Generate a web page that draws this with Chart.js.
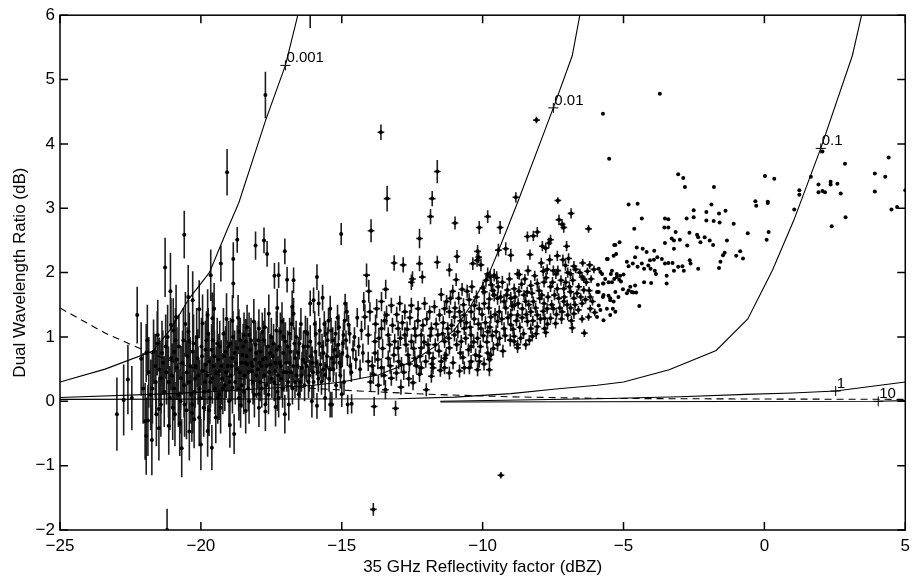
<!DOCTYPE html>
<html>
<head>
<meta charset="utf-8">
<script src="https://cdn.jsdelivr.net/npm/chart.js@4.4.0/dist/chart.umd.min.js"></script>
<style>
  html, body { margin: 0; padding: 0; background: #fff; }
  #wrap { width: 916px; height: 582px; }
</style>
</head>
<body>
<div id="wrap"><canvas id="dwrChart"></canvas></div>
<script>
// axis ticks
const xTicks = [-25, -20, -15, -10, -5, 0, 5];
const yTicks = [-2, -1, 0, 1, 2, 3, 4, 5, 6];

// model curves (labelled) and the dashed reference curve
const curve001 = [[-25,0.30],[-23.4,0.50],[-21.7,0.78],[-21.06,1.13],[-20.41,1.60],[-19.7,2.00],[-19.1,2.63],[-18.65,3.09],[-17.7,4.37],[-17.0,5.22],[-16.56,6.0],[-16.2,6.8]];
const curve01 = [[-25,0.06],[-21,0.12],[-18,0.19],[-16,0.25],[-15,0.30],[-13.7,0.41],[-12.5,0.62],[-11.7,0.85],[-11.0,1.11],[-10.4,1.50],[-9.76,2.00],[-9.41,2.37],[-8.76,3.09],[-7.49,4.56],[-6.82,5.37],[-6.55,6.0],[-6.3,6.8]];
const curve1 = [[-25,0.03],[-13,0.04],[-11,0.065],[-9,0.12],[-7.4,0.19],[-5.94,0.25],[-5.0,0.30],[-3.38,0.49],[-1.71,0.79],[-0.59,1.28],[0.29,2.04],[1.05,2.82],[2.0,3.93],[3.12,5.37],[3.45,6.0],[3.7,6.8]];
const curve10 = [[-11.5,0.0],[-5.94,0.04],[-3,0.07],[-0.65,0.107],[1,0.13],[2.53,0.16],[5,0.30]];
const curve100 = [[-11.5,-0.01],[4.04,0.0],[5,0.01]];
const dashedCurve = [[-25,1.45],[-23.4,1.06],[-22.47,0.88],[-21.24,0.65],[-19.5,0.42],[-17.5,0.27],[-16,0.20],[-14.4,0.16],[-11.94,0.11],[-9,0.07],[-5.94,0.045],[0,0.035],[5,0.03]];

// "+" markers on the curves and their labels
const curveLabels = ['0.001', '0.01', '0.1', '1', '10'];
const markerX = [-17.0, -7.49, 2.0, 2.53, 4.04];
const markerY = [5.22, 4.56, 3.93, 0.16, 0.0];

// observations: [dBZ, DWR, DWR error]
const leftPts = [
  [-22.98,-0.20,0.57],[-22.74,0.02,0.55],[-22.59,0.34,0.54],[-22.45,0.05,0.5],[-22.26,1.34,0.44],[-22.12,0.66,0.57],
  [-22.05,0.20,0.55],[-21.98,-0.31,0.6],[-21.88,-0.30,0.55],[-21.94,-0.54,0.6],[-21.94,0.75,0.45],[-21.85,0.45,0.55],
  [-21.78,0.10,0.55],[-21.74,-0.60,0.55],[-21.68,0.77,0.5],[-21.6,0.30,0.5],[-21.58,-0.20,0.5],[-21.53,1.03,0.55],
  [-21.49,-0.12,0.5],[-21.49,-0.42,0.5],[-21.47,0.49,0.5],[-21.41,0.36,0.55],[-21.35,0.60,0.5],[-21.3,0.15,0.55],
  [-21.27,2.08,0.46],[-21.25,0.85,0.5],[-21.20,-2.00,0.33],[-21.15,0.30,0.55],[-21.14,-0.38,0.45],[-21.08,1.71,0.6],
  [-21.06,1.19,0.41],[-21.06,0.67,0.5],[-21.0,-0.10,0.5],[-20.95,0.20,0.5],[-20.94,0.77,0.5],[-20.9,0.95,0.5],
  [-20.88,1.31,0.5],[-20.86,0.52,0.5],[-20.8,0.10,0.5],[-20.75,-0.35,0.5],[-20.71,0.36,0.5],[-20.68,-0.73,0.45],
  [-20.65,0.60,0.5],[-20.6,0.25,0.5],[-20.59,2.59,0.37],[-20.55,1.20,0.5],[-20.51,-0.14,0.45],[-20.5,0.45,0.5],
  [-20.45,1.62,0.5],[-20.44,1.08,0.5],[-20.41,0.93,0.45],[-20.41,-0.47,0.45],[-20.35,0.10,0.45],[-20.32,-0.18,0.45],
  [-20.3,-0.05,0.45],[-20.29,1.57,0.45],[-20.29,0.77,0.45],[-20.24,-0.28,0.45],[-20.2,0.35,0.45],[-20.15,1.00,0.45],
  [-20.12,0.67,0.45],[-20.06,1.43,0.45],[-20.06,-0.25,0.45],[-20.05,0.20,0.45],[-20.0,-0.67,0.4],[-19.98,0.85,0.45],
  [-19.94,1.21,0.45],[-19.94,0.47,0.45],[-19.9,-0.10,0.45],[-19.85,0.30,0.45],[-19.82,0.57,0.45],[-19.8,0.95,0.45],
  [-19.76,1.34,0.4],[-19.76,-0.46,0.4],[-19.71,0.62,0.45],[-19.71,0.16,0.45],[-19.71,-0.14,0.4],[-19.68,0.05,0.4],
  [-19.65,1.96,0.4],[-19.62,0.80,0.4],[-19.61,-0.72,0.35],[-19.59,1.29,0.4],[-19.59,0.36,0.4],[-19.55,0.55,0.4],
  [-19.53,1.44,0.4],[-19.5,0.20,0.4],[-19.47,-0.25,0.4],[-19.42,0.90,0.4],[-19.38,0.65,0.4],[-19.35,0.47,0.4],
  [-19.35,0.11,0.4],[-19.3,-0.10,0.4],[-19.29,2.14,0.28],[-19.25,0.35,0.4],[-19.2,1.05,0.4],[-19.15,0.25,0.4],
  [-19.12,0.77,0.4],[-19.09,1.28,0.4],[-19.07,3.56,0.36],[-19.05,0.55,0.4],[-19.0,0.00,0.4],[-18.97,-0.37,0.35],
  [-18.95,0.90,0.4],[-18.92,0.40,0.4],[-18.88,1.25,0.4],[-18.88,0.67,0.4],[-18.88,0.21,0.4],[-18.85,2.21,0.26],
  [-18.85,1.83,0.23],[-18.82,-0.51,0.31],[-18.78,0.30,0.35],[-18.75,0.60,0.35],[-18.71,2.51,0.2],[-18.71,0.83,0.35],
  [-18.68,1.30,0.35],[-18.65,1.08,0.35],[-18.65,0.05,0.35],[-18.62,0.45,0.35],[-18.59,-0.06,0.35],[-18.55,0.25,0.35],
  [-18.53,0.72,0.35],[-18.5,0.85,0.35],[-18.47,1.03,0.35],[-18.45,0.40,0.35],[-18.41,0.93,0.35],[-18.41,-0.15,0.35],
  [-18.38,0.70,0.35],[-18.35,0.57,0.35],[-18.32,0.20,0.35],[-18.29,1.03,0.35],[-18.29,0.00,0.35],[-18.25,0.80,0.35],
  [-18.2,0.60,0.35],[-18.18,0.47,0.35],[-18.15,0.30,0.35],[-18.12,1.24,0.35],[-18.08,0.65,0.35],[-18.06,2.42,0.22],
  [-18.06,0.88,0.35],[-18.02,0.40,0.35],[-17.98,0.50,0.3],[-17.94,1.13,0.3],[-17.94,0.11,0.3],[-17.94,-0.10,0.3],
  [-17.9,0.30,0.3],[-17.88,0.77,0.3],[-17.85,0.55,0.3],[-17.82,1.08,0.3],[-17.78,0.95,0.3],[-17.76,2.50,0.2],
  [-17.75,0.40,0.3],[-17.71,4.76,0.36],[-17.71,0.67,0.3],[-17.71,-0.05,0.3],[-17.71,-0.16,0.3],[-17.68,0.25,0.3],
  [-17.65,2.29,0.2],[-17.62,0.85,0.3],[-17.59,1.36,0.3],[-17.58,0.45,0.3],[-17.53,0.57,0.3],[-17.5,1.00,0.3],
  [-17.45,0.70,0.3],[-17.4,0.30,0.3],[-17.39,1.95,0.2],[-17.35,0.47,0.3],[-17.35,-0.09,0.3],[-17.3,0.80,0.3],
  [-17.29,1.45,0.3],[-17.28,0.15,0.3],[-17.24,1.96,0.2],[-17.24,0.05,0.3],[-17.2,0.60,0.3],[-17.18,1.08,0.3],
  [-17.15,0.35,0.3],[-17.12,1.24,0.3],[-17.08,0.75,0.3],[-17.05,0.45,0.3],[-17.02,2.33,0.2],[-17.02,-0.20,0.3],
  [-17.0,0.93,0.3],[-16.98,0.60,0.3],[-16.94,1.89,0.2],[-16.9,0.30,0.25],[-16.88,-0.05,0.25],[-16.85,1.05,0.25],
  [-16.82,0.77,0.25],[-16.8,0.45,0.25],[-16.76,1.47,0.25],[-16.75,0.20,0.25],[-16.71,1.36,0.25],[-16.71,1.88,0.2],
  [-16.68,0.90,0.25],[-16.65,0.67,0.25],[-16.6,0.40,0.25],[-16.55,0.75,0.25],[-16.53,0.11,0.25],[-16.48,0.30,0.25],
  [-16.45,1.20,0.25],[-16.41,0.52,0.25],[-16.38,0.65,0.25],[-16.32,0.25,0.25],[-16.29,1.08,0.25],[-16.25,0.55,0.25],
  [-16.2,0.85,0.25],[-16.15,0.40,0.25],[-16.12,1.52,0.2],[-16.12,0.93,0.25],[-16.12,6.15,0.35],[-16.06,0.00,0.25],
  [-16.05,0.60,0.25],[-16.0,1.57,0.2],[-16.0,0.30,0.25],[-15.94,0.77,0.25],[-15.92,1.05,0.2],[-15.88,1.93,0.2],
  [-15.88,-0.07,0.2],[-15.85,0.45,0.2],[-15.82,1.52,0.2],[-15.8,0.90,0.2],[-15.76,0.57,0.2],[-15.72,0.30,0.2],
  [-15.68,1.61,0.2],[-15.65,0.75,0.2],[-15.62,1.20,0.2],[-15.59,0.41,0.2],[-15.59,0.05,0.2],[-15.55,0.55,0.2],
  [-15.5,0.95,0.2],[-15.45,0.35,0.2],[-15.41,1.44,0.2],[-15.41,-0.05,0.2],[-15.38,1.10,0.2],[-15.35,0.67,0.2],
  [-15.35,-0.05,0.2],[-15.3,0.50,0.2],[-15.25,0.80,0.2],[-15.2,0.25,0.2],[-15.15,1.30,0.2],[-15.12,0.88,0.2],
  [-15.08,0.60,0.2],[-15.05,0.40,0.2],[-15.02,2.60,0.17],[-15.0,0.11,0.2],[-14.98,0.75,0.2],[-14.94,1.03,0.2],
  [-14.92,0.30,0.2],[-14.88,1.52,0.15],[-14.85,0.95,0.15],[-14.82,1.39,0.15],[-14.79,-0.05,0.15],[-14.76,1.19,0.15],
  [-14.7,0.55,0.15],[-14.65,-0.04,0.15],[-14.6,0.80,0.15],
  [-21.9,0.95,0.55],[-21.72,0.20,0.55],[-21.62,0.55,0.5],[-21.55,0.90,0.5],[-21.42,-0.05,0.5],[-21.38,0.75,0.5],
  [-21.22,0.45,0.5],[-21.18,1.00,0.5],[-21.1,0.05,0.5],[-21.02,0.40,0.5],[-20.98,1.10,0.5],[-20.92,-0.20,0.5],
  [-20.85,0.65,0.5],[-20.78,0.85,0.5],[-20.72,0.00,0.5],[-20.62,0.95,0.5],[-20.58,-0.05,0.5],[-20.48,0.70,0.45],
  [-20.42,0.30,0.45],[-20.38,0.55,0.45],[-20.26,0.90,0.45],[-20.22,0.15,0.45],[-20.18,0.55,0.45],[-20.1,0.40,0.45],
  [-20.02,0.05,0.45],[-19.96,0.70,0.45],[-19.88,0.15,0.45],[-19.84,0.80,0.45],[-19.78,0.40,0.45],[-19.74,1.05,0.4],
  [-19.66,0.30,0.4],[-19.58,0.95,0.4],[-19.52,0.70,0.4],[-19.45,0.45,0.4],[-19.4,0.05,0.4],[-19.33,0.85,0.4],
  [-19.28,0.55,0.4],[-19.22,0.20,0.4],[-19.18,0.70,0.4],[-19.1,0.45,0.4],[-19.02,0.85,0.4],[-18.98,0.30,0.4],
  [-18.9,0.55,0.4],[-18.86,1.00,0.4],[-18.8,0.75,0.35],[-18.72,0.50,0.35],[-18.66,0.20,0.35],[-18.6,0.95,0.35],
  [-18.57,0.60,0.35],[-18.48,0.15,0.35],[-18.43,0.60,0.35],[-18.36,1.15,0.35],[-18.3,0.45,0.35],[-18.22,0.95,0.35],
  [-18.16,0.55,0.35],[-18.1,0.10,0.35],[-18.04,0.75,0.35],[-17.96,0.95,0.3],[-17.92,0.60,0.3],[-17.84,0.20,0.3],
  [-17.8,0.65,0.3],[-17.73,1.15,0.3],[-17.66,0.55,0.3],[-17.6,0.10,0.3],[-17.55,0.75,0.3],[-17.48,0.35,0.3],
  [-17.42,0.90,0.3],[-17.36,0.60,0.3],[-17.32,1.10,0.3],[-17.26,0.40,0.3],[-17.22,0.85,0.3],[-17.16,0.55,0.3],
  [-17.1,0.20,0.3],[-17.06,1.00,0.3],[-16.96,0.45,0.3],[-16.92,0.85,0.25],[-16.86,0.60,0.25],[-16.78,1.20,0.25],
  [-16.72,0.55,0.25],[-16.66,0.30,0.25],[-16.62,1.00,0.25],[-16.57,0.55,0.25],[-16.5,0.90,0.25],[-16.43,0.40,0.25],
  [-16.36,0.85,0.25],[-16.3,0.60,0.25],[-16.22,1.05,0.25],[-16.18,0.30,0.25],[-16.1,0.70,0.25],[-16.02,0.45,0.25],
  [-15.96,1.20,0.2],[-15.9,0.60,0.2],[-15.83,0.35,0.2],[-15.78,1.10,0.2],[-15.7,0.85,0.2],[-15.66,0.50,0.2],
  [-15.57,1.05,0.2],[-15.52,0.70,0.2],[-15.47,1.25,0.2],[-15.42,0.50,0.2],[-15.32,0.95,0.2],[-15.28,0.60,0.2],
  [-15.22,1.05,0.2],[-15.18,0.70,0.2],[-15.1,1.15,0.2],[-15.03,0.55,0.2],[-14.96,0.90,0.2],[-14.9,1.25,0.15],
  [-14.8,0.70,0.15],[-14.72,1.05,0.15],[-14.66,0.45,0.15],[-14.55,1.00,0.15],[-14.5,0.65,0.15],[-14.45,1.30,0.15],
  [-14.4,0.85,0.15],[-14.35,0.50,0.15],[-14.3,1.10,0.15],[-14.25,0.75,0.15],[-14.22,1.55,0.15]
];

const midPts = [
  [-14.18,1.31,0.2],[-14.12,1.96,0.18],[-14.06,1.03,0.15],[-14.06,0.62,0.15],[-14.04,1.71,0.18],[-14.0,1.39,0.15],
  [-13.96,2.65,0.18],[-13.88,0.42,0.15],[-13.88,-1.68,0.1],[-13.85,-0.08,0.15],[-13.82,0.93,0.15],[-13.82,0.75,0.15],
  [-13.76,1.44,0.15],[-13.61,4.18,0.12],[-13.59,1.55,0.15],[-13.59,1.13,0.15],[-13.59,0.52,0.15],[-13.44,1.74,0.15],
  [-13.41,1.34,0.15],[-13.39,3.15,0.2],[-13.35,1.03,0.12],[-13.35,0.67,0.12],[-13.24,1.49,0.12],[-13.24,0.36,0.12],
  [-13.14,2.15,0.12],[-13.12,0.93,0.12],[-13.09,-0.11,0.12],[-13.06,0.44,0.12],[-13.0,1.13,0.12],[-13.0,0.83,0.12],
  [-12.94,1.52,0.12],[-12.88,0.57,0.12],[-12.82,2.12,0.12],[-12.76,1.39,0.12],[-12.76,1.03,0.12],[-12.65,0.72,0.12],
  [-12.53,1.85,0.12],[-12.53,1.49,0.12],[-12.53,0.93,0.12],[-12.49,1.90,0.12],[-12.47,0.29,0.12],[-12.41,1.13,0.12],
  [-12.41,0.67,0.12],[-12.29,1.44,0.12],[-12.24,2.53,0.15],[-12.24,2.14,0.12],[-12.24,0.42,0.12],[-12.18,1.03,0.1],
  [-12.18,0.83,0.1],[-12.18,0.52,0.1],[-12.14,1.93,0.1],[-12.06,1.52,0.1],[-12.0,0.18,0.1],[-11.94,0.88,0.1],
  [-11.88,1.39,0.1],[-11.85,2.87,0.12],[-11.82,1.13,0.1],[-11.82,0.39,0.1],[-11.79,3.15,0.12],[-11.76,0.67,0.1],
  [-11.76,0.52,0.1],[-11.71,1.47,0.1],[-11.61,3.57,0.18],[-11.61,2.16,0.1],[-11.59,1.03,0.1],[-11.53,1.34,0.1],
  [-11.47,1.66,0.1],[-11.47,0.62,0.1],[-11.35,1.44,0.1],[-11.35,0.93,0.1],[-11.35,0.67,0.1],[-11.35,0.52,0.1],
  [-11.24,1.13,0.1],[-11.18,2.04,0.1],[-11.18,1.39,0.1],[-11.18,0.83,0.1],[-11.18,0.44,0.1],[-11.14,1.60,0.1],
  [-11.06,1.71,0.1],[-11.0,1.31,0.1],[-11.0,1.03,0.1],[-10.98,2.77,0.1],[-10.94,1.89,0.1],[-10.91,2.25,0.1],
  [-10.82,1.39,0.1],[-10.82,0.47,0.1],[-10.79,0.75,0.1],[-10.76,0.93,0.1],[-10.73,1.74,0.1],[-10.65,1.34,0.1],
  [-10.65,1.13,0.1],[-10.65,0.52,0.1],[-10.55,1.71,0.1],[-10.47,0.52,0.1],[-10.41,1.39,0.1],[-10.41,1.03,0.1],
  [-10.41,0.85,0.1],[-10.41,0.62,0.1],[-10.38,1.78,0.1],[-10.35,2.14,0.1],[-10.29,1.49,0.1],[-10.2,2.19,0.1],
  [-10.18,2.33,0.1],[-10.18,0.98,0.1],[-10.18,0.49,0.1],[-10.14,2.24,0.1],[-10.12,2.70,0.1],[-10.12,1.44,0.1],
  [-10.12,0.70,0.1],[-10.12,0.62,0.1],[-10.06,2.12,0.1],[-10.06,1.13,0.1],[-9.99,1.76,0.1],[-9.94,1.70,0.1],
  [-9.94,1.52,0.1],[-9.82,2.87,0.1],[-9.82,1.98,0.1],[-9.82,1.08,0.1],[-9.82,0.75,0.1],[-9.76,1.59,0.1],
  [-9.76,0.65,0.1],[-9.76,0.49,0.1],[-9.73,1.93,0.1],[-9.71,1.31,0.1],[-9.71,0.72,0.1],[-9.69,1.81,0.1],
  [-9.59,1.96,0.1],[-9.59,1.65,0.1],[-9.5,1.92,0.1],[-9.47,1.60,0.1],[-9.47,1.24,0.1],[-9.47,0.88,0.1],
  [-9.44,2.35,0.1],[-9.41,1.39,0.1],[-9.38,2.70,0.1],[-9.35,-1.15,0.05],[-9.24,1.55,0.1],[-9.24,1.13,0.1],
  [-9.18,2.37,0.1],[-9.18,1.45,0.1],[-9.12,1.73,0.1],[-9.0,2.27,0.1],[-9.0,1.60,0.1],[-9.0,1.34,0.1],
  [-9.0,1.19,0.1],[-8.88,1.75,0.08],[-8.88,1.49,0.08],[-8.88,1.01,0.08],[-8.88,0.93,0.08],[-8.82,3.17,0.08],
  [-8.76,1.98,0.08],[-8.76,1.34,0.08],[-8.76,0.88,0.08],[-8.76,0.83,0.08],[-8.71,1.71,0.08],[-8.7,1.97,0.08],
  [-8.65,0.98,0.08],[-8.59,1.44,0.08],[-8.53,1.65,0.08],[-8.47,1.55,0.08],[-8.47,0.88,0.08],[-8.41,2.56,0.08],
  [-8.41,1.24,0.08],[-8.39,2.03,0.08],[-8.32,2.28,0.08],[-8.29,1.80,0.08],[-8.29,1.39,0.08],[-8.29,1.13,0.08],
  [-8.24,1.01,0.08],[-8.2,2.57,0.08],[-8.2,1.55,0.08],[-8.09,4.37,0.05],[-8.06,2.63,0.08],[-8.06,1.83,0.08],
  [-8.06,1.34,0.08],[-8.06,1.16,0.08],[-7.97,1.60,0.08],[-7.88,2.41,0.08],[-7.85,2.02,0.08],[-7.82,1.85,0.08],
  [-7.82,1.52,0.08],[-7.8,1.29,0.08],[-7.8,1.13,0.08],[-7.76,2.38,0.08],[-7.76,1.07,0.08],[-7.71,2.05,0.08],
  [-7.71,1.44,0.08],[-7.65,2.46,0.08],[-7.59,2.51,0.08],[-7.59,1.78,0.08],[-7.59,1.29,0.08],[-7.49,2.03,0.08],
  [-7.49,1.44,0.08],[-7.41,1.21,0.08],[-7.35,2.26,0.08],[-7.35,1.75,0.08],[-7.33,3.12,0.05],[-7.33,2.03,0.08],
  [-7.29,2.82,0.08],[-7.26,1.45,0.08],[-7.18,2.75,0.08],[-7.18,1.39,0.08],[-7.12,2.70,0.08],[-7.12,1.75,0.08],
  [-7.12,1.55,0.08],[-7.06,2.11,0.08],[-7.02,2.41,0.08],[-6.98,2.00,0.08],[-6.98,1.34,0.08],[-6.88,1.98,0.08],
  [-6.88,1.70,0.08],[-6.88,1.45,0.08],[-6.86,2.92,0.08],[-6.82,1.14,0.08],[-6.76,2.10,0.08],[-6.76,1.60,0.08],
  [-6.76,1.36,0.08],[-6.59,1.78,0.06],[-6.47,1.93,0.06],[-6.47,1.52,0.06],[-6.47,1.28,0.06],[-6.41,1.90,0.06],
  [-6.41,1.73,0.06],[-6.39,1.06,0.06],[-6.24,2.68,0.06],[-6.24,1.31,0.06],[-6.2,2.12,0.06],[-6.18,1.62,0.06],
  [-6.18,1.44,0.06],
  [-13.98,0.30,0.15],[-13.92,0.55,0.15],[-13.8,1.20,0.15],[-13.72,0.65,0.15],[-13.7,0.25,0.15],[-13.68,0.98,0.15],
  [-13.55,0.82,0.15],[-13.5,0.40,0.15],[-13.48,1.25,0.15],[-13.45,0.18,0.15],[-13.3,0.88,0.12],[-13.28,0.55,0.12],
  [-13.2,1.18,0.12],[-13.15,0.72,0.12],[-13.05,1.35,0.12],[-12.98,0.62,0.12],[-12.92,0.98,0.12],[-12.9,0.22,0.12],
  [-12.85,1.22,0.12],[-12.8,0.45,0.12],[-12.72,0.88,0.12],[-12.68,1.12,0.12],[-12.62,0.35,0.12],[-12.6,0.58,0.12],
  [-12.58,1.30,0.12],[-12.45,0.82,0.12],[-12.38,1.02,0.12],[-12.35,0.55,0.12],[-12.3,1.25,0.12],[-12.22,0.70,0.1],
  [-12.12,1.18,0.1],[-12.08,0.92,0.1],[-12.02,0.62,0.1],[-11.98,1.28,0.1],[-11.9,0.75,0.1],[-11.86,1.02,0.1],
  [-11.8,0.58,0.1],[-11.68,0.88,0.1],[-11.65,1.20,0.1],[-11.55,0.78,0.1],[-11.5,0.48,0.1],[-11.42,1.05,0.1],
  [-11.4,1.22,0.1],[-11.3,0.72,0.1],[-11.28,1.55,0.1],[-11.2,0.98,0.1],[-11.1,1.18,0.1],[-11.05,0.60,0.1],
  [-10.98,1.45,0.1],[-10.92,0.88,0.1],[-10.88,1.08,0.1],[-10.85,1.60,0.1],[-10.78,1.25,0.1],[-10.7,0.68,0.1],
  [-10.68,1.50,0.1],[-10.6,0.98,0.1],[-10.58,1.22,0.1],[-10.5,0.80,0.1],[-10.48,1.58,0.1],[-10.44,1.15,0.1],
  [-10.32,0.92,0.1],[-10.3,1.28,0.1],[-10.25,0.72,0.1],[-10.22,1.62,0.1],[-10.15,1.20,0.1],[-10.08,0.85,0.1],
  [-10.02,1.35,0.1],[-9.98,1.02,0.1],[-9.95,0.58,0.1],[-9.9,1.22,0.1],[-9.88,1.88,0.1],[-9.85,0.92,0.1],
  [-9.78,1.45,0.1],[-9.74,1.15,0.1],[-9.66,1.02,0.1],[-9.64,1.72,0.1],[-9.62,0.82,0.1],[-9.56,1.35,0.1],
  [-9.52,1.08,0.1],[-9.45,1.78,0.1],[-9.4,0.98,0.1],[-9.36,1.62,0.1],[-9.32,1.28,0.1],[-9.3,1.85,0.1],
  [-9.28,0.78,0.1],[-9.2,1.02,0.1],[-9.15,1.65,0.1],[-9.1,1.30,0.1],[-9.05,1.90,0.1],[-9.02,0.95,0.1],
  [-8.95,1.48,0.08],[-8.92,1.12,0.08],[-8.85,1.62,0.08],[-8.8,1.25,0.08],[-8.74,1.52,0.08],[-8.68,1.15,0.08],
  [-8.62,1.82,0.08],[-8.6,1.30,0.08],[-8.55,1.05,0.08],[-8.5,1.90,0.08],[-8.45,1.35,0.08],[-8.42,1.70,0.08],
  [-8.36,1.50,0.08],[-8.34,0.95,0.08],[-8.25,1.68,0.08],[-8.22,1.25,0.08],[-8.15,1.95,0.08],[-8.12,1.45,0.08],
  [-8.1,1.05,0.08],[-8.0,1.72,0.08],[-7.95,1.28,0.08],[-7.92,2.15,0.08],[-7.9,1.65,0.08],[-7.85,1.40,0.08],
  [-7.75,1.92,0.08],[-7.7,1.20,0.08],[-7.68,1.62,0.08],[-7.62,2.20,0.08],[-7.55,1.50,0.08],[-7.52,1.85,0.08],
  [-7.45,1.65,0.08],[-7.4,1.98,0.08],[-7.38,1.35,0.08],[-7.3,1.60,0.08],[-7.22,1.88,0.08],[-7.2,1.28,0.08],
  [-7.15,2.20,0.08],[-7.1,1.62,0.08],[-7.05,1.85,0.08],[-7.0,1.50,0.08],[-6.95,2.22,0.08],[-6.92,1.78,0.08],
  [-6.85,1.25,0.08],[-6.8,1.88,0.08],[-6.72,1.50,0.06],[-6.7,2.05,0.06],[-6.65,1.68,0.06],[-6.6,1.42,0.06],
  [-6.55,2.00,0.06],[-6.52,1.62,0.06],[-6.45,2.15,0.06],[-6.35,1.58,0.06],[-6.32,1.85,0.06],[-6.28,2.02,0.06],
  [-6.22,1.72,0.06],[-6.15,1.90,0.06],[-6.1,1.55,0.06],[-6.05,2.05,0.06],[-6.02,1.38,0.06]
];

const rightPts = [
  [-5.94,1.70],[-5.94,1.31],[-5.91,1.81],[-5.88,2.06],[-5.88,1.70],[-5.88,1.49],[-5.82,2.01],[-5.82,1.42],
  [-5.76,1.98],[-5.73,4.47],[-5.73,1.83],[-5.73,1.62],[-5.71,1.83],[-5.71,1.65],[-5.71,1.26],[-5.65,1.90],
  [-5.59,2.21],[-5.59,1.44],[-5.56,2.21],[-5.53,1.85],[-5.53,1.64],[-5.51,3.77],[-5.47,1.60],[-5.47,1.57],
  [-5.47,1.34],[-5.45,1.98],[-5.41,2.03],[-5.41,1.85],[-5.38,1.44],[-5.35,2.26],[-5.35,1.55],[-5.33,2.43],
  [-5.33,1.90],[-5.29,2.43],[-5.29,1.70],[-5.29,1.39],[-5.26,2.29],[-5.24,1.98],[-5.24,1.93],[-5.18,1.62],
  [-5.15,1.89],[-5.14,2.47],[-5.12,1.95],[-5.09,1.86],[-5.02,1.74],[-5.0,1.97],[-4.88,2.17],[-4.88,1.68],
  [-4.82,3.06],[-4.82,2.10],[-4.82,1.72],[-4.76,1.78],[-4.71,1.70],[-4.67,2.14],[-4.65,1.69],[-4.62,2.68],
  [-4.59,2.24],[-4.59,1.80],[-4.55,1.69],[-4.53,2.39],[-4.50,3.07],[-4.50,2.09],[-4.44,1.48],[-4.35,2.84],
  [-4.35,2.14],[-4.32,2.37],[-4.27,2.06],[-4.27,1.85],[-4.18,2.32],[-4.12,2.11],[-4.06,2.19],[-4.04,2.06],
  [-4.02,1.84],[-3.92,2.20],[-3.91,2.34],[-3.89,2.03],[-3.85,1.98],[-3.80,2.24],[-3.71,4.78],[-3.64,2.21],
  [-3.55,2.70],[-3.53,2.84],[-3.53,2.46],[-3.53,2.14],[-3.47,1.95],[-3.47,1.83],[-3.41,2.83],[-3.41,2.70],
  [-3.41,2.15],[-3.29,2.53],[-3.26,2.15],[-3.21,2.50],[-3.21,2.37],[-3.21,2.03],[-3.15,2.63],[-3.06,3.53],
  [-3.06,2.09],[-3.00,2.51],[-2.91,2.10],[-2.88,3.47],[-2.86,2.03],[-2.82,3.33],[-2.76,2.84],[-2.74,2.42],
  [-2.66,2.62],[-2.65,2.19],[-2.62,2.14],[-2.51,2.97],[-2.51,2.86],[-2.39,2.59],[-2.35,2.55],[-2.35,2.06],
  [-2.27,2.47],[-2.12,2.55],[-2.06,2.94],[-2.06,2.81],[-1.94,2.50],[-1.88,3.06],[-1.82,2.43],[-1.80,2.80],
  [-1.79,3.33],[-1.61,2.92],[-1.61,2.07],[-1.59,2.78],[-1.56,2.17],[-1.47,2.27],[-1.41,2.31],[-1.38,2.96],
  [-1.33,2.50],[-1.09,2.76],[-1.00,2.26],[-0.86,2.33],[-0.76,2.22],[-0.59,2.61],[-0.32,3.11],[-0.29,3.04],
  [0.02,3.50],[0.08,2.51],[0.12,3.10],[0.12,3.08],[0.15,2.63],[0.35,3.46],[1.06,2.98],[1.24,3.28],
  [1.24,3.21],[1.65,3.49],[1.92,3.37],[1.92,3.25],[2.06,3.88],[2.06,3.27],[2.15,3.25],[2.35,3.41],
  [2.35,3.37],[2.39,2.72],[2.59,3.38],[2.71,3.23],[2.86,3.69],[2.88,2.86],[3.92,3.54],[3.92,3.26],
  [4.29,3.49],[4.41,3.79],[4.51,2.98],[4.71,3.02],[5.0,3.28]
];

// half width of the small horizontal bars on the mid-range points (dB)
const hErr = 0.12;

const FONT = 'Liberation Sans, Arial, Helvetica, sans-serif';
const toXY = arr => arr.map(p => ({ x: p[0], y: p[1] }));
const fmtTick = v => (v < 0 ? '\u2212' + Math.abs(v) : String(v));

function curveSet(data, dash) {
  return {
    data: toXY(data),
    showLine: true,
    borderColor: '#000',
    borderWidth: 1.1,
    borderDash: dash || [],
    pointRadius: 0,
    tension: 0
  };
}

// error bars under the points
const errorBars = {
  id: 'errorBars',
  beforeDatasetsDraw(chart) {
    const { ctx, chartArea: a, scales: { x, y } } = chart;
    ctx.save();
    ctx.beginPath();
    ctx.rect(a.left, a.top, a.width, a.height);
    ctx.clip();
    ctx.strokeStyle = '#1e1e1e';
    ctx.lineWidth = 1.6;
    ctx.beginPath();
    for (const [px, py, e] of leftPts.concat(midPts)) {
      const cx = x.getPixelForValue(px);
      ctx.moveTo(cx, y.getPixelForValue(py - e));
      ctx.lineTo(cx, y.getPixelForValue(py + e));
    }
    ctx.stroke();
    ctx.beginPath();
    for (const [px, py] of midPts) {
      const cy = y.getPixelForValue(py);
      ctx.moveTo(x.getPixelForValue(px - hErr), cy);
      ctx.lineTo(x.getPixelForValue(px + hErr), cy);
    }
    ctx.stroke();
    ctx.restore();
  }
};

// box round the plot with inward ticks, plus the curve labels
const frame = {
  id: 'frame',
  afterDraw(chart) {
    const { ctx, chartArea: a, scales: { x, y } } = chart;
    const tl = 8;
    ctx.save();
    ctx.strokeStyle = '#000';
    ctx.lineWidth = 1.5;
    ctx.strokeRect(a.left, a.top, a.width, a.height);
    ctx.beginPath();
    xTicks.forEach(v => {
      const px = x.getPixelForValue(v);
      ctx.moveTo(px, a.bottom); ctx.lineTo(px, a.bottom - tl);
      ctx.moveTo(px, a.top); ctx.lineTo(px, a.top + tl);
    });
    yTicks.forEach(v => {
      const py = y.getPixelForValue(v);
      ctx.moveTo(a.left, py); ctx.lineTo(a.left + tl, py);
      ctx.moveTo(a.right, py); ctx.lineTo(a.right - tl, py);
    });
    ctx.stroke();

    ctx.fillStyle = '#000';
    ctx.font = '15px ' + FONT;
    ctx.textAlign = 'left';
    ctx.textBaseline = 'alphabetic';
    curveLabels.forEach((t, i) => {
      ctx.fillText(t, x.getPixelForValue(markerX[i]) + 1, y.getPixelForValue(markerY[i]) - 3);
    });
    ctx.restore();
  }
};

const ctx = document.getElementById('dwrChart').getContext('2d');
const dwrChart = new Chart(ctx, {
  type: 'scatter',
  data: {
    datasets: [
      curveSet(curve001),
      curveSet(curve01),
      curveSet(curve1),
      curveSet(curve10),
      curveSet(curve100),
      curveSet(dashedCurve, [7, 5]),
      {
        data: markerX.map((v, i) => ({ x: v, y: markerY[i] })),
        pointStyle: 'cross',
        pointRadius: 5,
        borderColor: '#000',
        borderWidth: 1
      },
      {
        data: toXY(leftPts.concat(midPts, rightPts)),
        pointRadius: 2,
        backgroundColor: '#000',
        borderWidth: 0
      }
    ]
  },
  options: {
    responsive: true,
    maintainAspectRatio: false,
    animation: false,
    layout: { padding: { top: 11, right: 6, left: 0, bottom: 0 } },
    plugins: { legend: { display: false }, tooltip: { enabled: false } },
    scales: {
      x: {
        type: 'linear',
        min: -25,
        max: 5,
        afterBuildTicks: s => { s.ticks = xTicks.map(v => ({ value: v })); },
        afterFit: s => { s.height = 52; },
        grid: { display: false, drawTicks: false },
        border: { display: false },
        ticks: { color: '#000', font: { family: FONT, size: 17 }, padding: 6, maxRotation: 0, callback: fmtTick },
        title: {
          display: true,
          text: '35 GHz Reflectivity factor (dBZ)',
          color: '#000',
          font: { family: FONT, size: 17 },
          padding: { top: 0, bottom: 4 }
        }
      },
      y: {
        type: 'linear',
        min: -2,
        max: 6,
        afterBuildTicks: s => { s.ticks = yTicks.map(v => ({ value: v })); },
        afterFit: s => { s.width = 60; },
        grid: { display: false, drawTicks: false },
        border: { display: false },
        ticks: { color: '#000', font: { family: FONT, size: 17 }, padding: 5, callback: fmtTick },
        title: {
          display: true,
          text: 'Dual Wavelength Ratio (dB)',
          color: '#000',
          font: { family: FONT, size: 17 },
          padding: { top: 10, bottom: 0 }
        }
      }
    }
  },
  plugins: [errorBars, frame]
});
</script>
</body>
</html>
